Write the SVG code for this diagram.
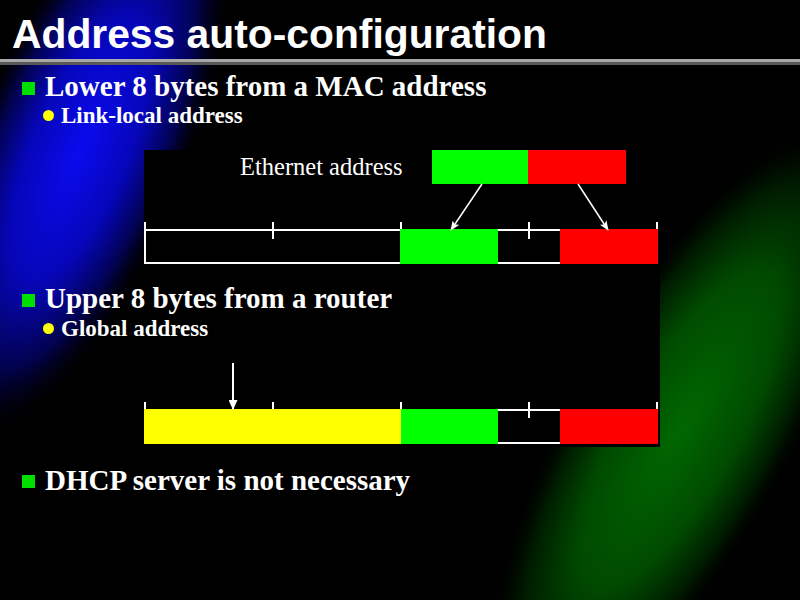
<svg xmlns="http://www.w3.org/2000/svg" width="800" height="600" viewBox="0 0 800 600">
<style>
.title{font-family:"Liberation Sans",Arial,sans-serif;font-weight:bold;font-size:40.8px;fill:#fff}
.b1{font-family:"Liberation Serif","Times New Roman",serif;font-weight:bold;font-size:29px;fill:#fff}
.b2{font-family:"Liberation Serif","Times New Roman",serif;font-weight:bold;font-size:23px;fill:#fff}
.lbl{font-family:"Liberation Serif","Times New Roman",serif;font-size:24.5px;fill:#fff}
.sq{fill:#00e000}
.dot{fill:#ffff00}
.w{stroke:#fff;stroke-width:2;fill:none}
.arr{stroke:#fff;stroke-width:1.5;fill:none}
.g{fill:#00ff00}.r{fill:#ff0000}.y{fill:#ffff00}
</style>
<defs>
<radialGradient id="blueG">
<stop offset="0" stop-color="#0a0af0"/>
<stop offset="0.45" stop-color="#0606b8"/>
<stop offset="0.75" stop-color="#020250"/>
<stop offset="1" stop-color="#000" stop-opacity="0"/>
</radialGradient>
<radialGradient id="greenG">
<stop offset="0" stop-color="#006800"/>
<stop offset="0.5" stop-color="#004a00"/>
<stop offset="0.8" stop-color="#001a00"/>
<stop offset="1" stop-color="#000" stop-opacity="0"/>
</radialGradient>
<marker id="ah" markerWidth="10" markerHeight="8" refX="9" refY="4" orient="auto" markerUnits="userSpaceOnUse">
<path d="M0,0 L10,4 L0,8 L2.5,4 z" fill="#fff"/>
</marker>
<marker id="ahv" markerWidth="10" markerHeight="9" refX="10" refY="4.5" orient="auto" markerUnits="userSpaceOnUse">
<path d="M0,0 L10,4.5 L0,9 z" fill="#fff"/>
</marker>
</defs>
<g id="background">
<rect x="0" y="0" width="800" height="600" fill="#000"/>
<ellipse cx="0" cy="0" rx="110" ry="310" transform="translate(80,150) rotate(22)" fill="url(#blueG)"/>
<ellipse cx="0" cy="0" rx="115" ry="350" transform="translate(680,430) rotate(29)" fill="url(#greenG)"/>
<rect x="144" y="150" width="516" height="297" fill="#000"/>
</g>
<g id="title">
<text class="title" x="12" y="48">Address auto-configuration</text>
<rect x="0" y="59" width="800" height="3" fill="#a8a8a8"/>
<rect x="0" y="62" width="800" height="3" fill="#585858"/>
</g>
<g id="bullet-lower">
<rect class="sq" x="22" y="82" width="13" height="13"/>
<text class="b1" x="45" y="96">Lower 8 bytes from a MAC address</text>
</g>
<g id="sub-linklocal">
<circle class="dot" cx="48.5" cy="115.5" r="5.5"/>
<text class="b2" x="61" y="123">Link-local address</text>
</g>
<g id="ethernet-address">
<text class="lbl" x="240" y="175">Ethernet address</text>
<rect class="g" x="432" y="150" width="96" height="34"/>
<rect class="r" x="528" y="150" width="98" height="34"/>
</g>
<g id="link-local-bar">
<line class="w" x1="145" y1="230" x2="657" y2="230"/>
<line class="w" x1="145" y1="263" x2="657" y2="263"/>
<line class="w" x1="145" y1="222" x2="145" y2="264"/>
<line class="w" x1="273" y1="222" x2="273" y2="239"/>
<line class="w" x1="401" y1="222" x2="401" y2="231"/>
<line class="w" x1="529" y1="222" x2="529" y2="239"/>
<line class="w" x1="657" y1="222" x2="657" y2="231"/>
<rect class="g" x="400" y="229" width="98" height="35"/>
<rect class="r" x="560" y="229" width="98" height="35"/>
</g>
<g id="bullet-upper">
<rect class="sq" x="22" y="294" width="13" height="13"/>
<text class="b1" x="45" y="308">Upper 8 bytes from a router</text>
</g>
<g id="sub-global">
<circle class="dot" cx="48.5" cy="328.5" r="5.5"/>
<text class="b2" x="61" y="336">Global address</text>
</g>
<g id="global-bar">
<line class="w" x1="145" y1="402" x2="145" y2="410"/>
<line class="w" x1="273" y1="402" x2="273" y2="410"/>
<line class="w" x1="401" y1="402" x2="401" y2="410"/>
<line class="w" x1="529" y1="402" x2="529" y2="418"/>
<line class="w" x1="657" y1="402" x2="657" y2="410"/>
<line class="w" x1="497" y1="410" x2="561" y2="410"/>
<line class="w" x1="497" y1="443" x2="561" y2="443"/>
<rect class="y" x="144" y="409" width="257" height="35"/>
<rect class="g" x="401" y="409" width="97" height="35"/>
<rect class="r" x="560" y="409" width="98" height="35"/>
</g>
<g id="bullet-dhcp">
<rect class="sq" x="22" y="475" width="13" height="13"/>
<text class="b1" x="45" y="490">DHCP server is not necessary</text>
</g>
<g id="connectors">
<line class="arr" x1="482" y1="184" x2="451" y2="230" marker-end="url(#ah)"/>
<line class="arr" x1="578" y1="184" x2="608" y2="230" marker-end="url(#ah)"/>
<line class="w" x1="233" y1="363" x2="233" y2="410" marker-end="url(#ahv)"/>
</g>
</svg>
